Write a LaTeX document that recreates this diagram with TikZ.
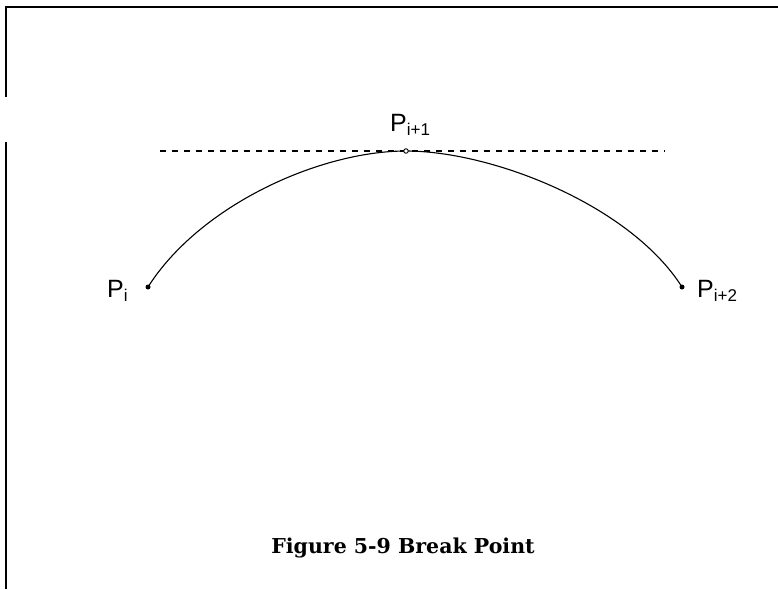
\documentclass[tikz,border=0pt]{standalone}
\usepackage{fontspec}
\setmainfont{Liberation Serif}
\newfontfamily\labfont{Liberation Sans}
\newfontfamily\capfont{DejaVu Serif}
\newcommand{\psub}[1]{P\raisebox{-4.5pt}{\fontsize{17}{17}\selectfont #1}}
\begin{document}
\begin{tikzpicture}[x=1pt,y=-1pt,
  dot/.style={circle,fill=black,inner sep=0pt,minimum size=5pt},
  odot/.style={circle,draw=black,fill=white,line width=0.9pt,inner sep=0pt,minimum size=4.5pt},
  plabel/.style={font=\labfont\fontsize{25}{27}\selectfont,inner sep=0pt},
  frame/.style={line width=1.8pt},
  curve/.style={line width=1.1pt},
  guide/.style={line width=1.2pt,dash pattern=on 6pt off 6pt}]
\useasboundingbox (0,0) rectangle (778,589);
% frame (top and left only)
\coordinate (ftl) at (6,7);
\coordinate (ftr) at (778,7);
\coordinate (fa) at (6,97);
\coordinate (fb) at (6,142);
\coordinate (fbl) at (6,589);
\draw[frame] (ftr) -- (ftl) -- (fa);
\draw[frame] (fb) -- (fbl);
% dashed tangent
\coordinate (d0) at (160,151);
\coordinate (d1) at (665,151);
\draw[guide] (d0) -- (d1);
% points
\node[dot] (p0) at (148,287) {};
\node[dot] (p2) at (682,287) {};
\draw[curve] (p0.center) .. controls (200,205) and (320,151) .. (406,151)
  .. controls (492,151) and (630,205) .. (p2.center);
\node[odot] (p1) at (406,151) {};
% labels
\node[plabel,anchor=base west] (l0) at (107,297) {\psub{i}};
\node[plabel,anchor=base west] (l1) at (390,131) {\psub{i+1}};
\node[plabel,anchor=base west] (l2) at (697,297) {\psub{i+2}};
% caption
\node[font=\capfont\bfseries\fontsize{20.5}{22}\selectfont,anchor=base] (cap) at (403,553) {Figure 5-9 Break Point};
\end{tikzpicture}
\end{document}
